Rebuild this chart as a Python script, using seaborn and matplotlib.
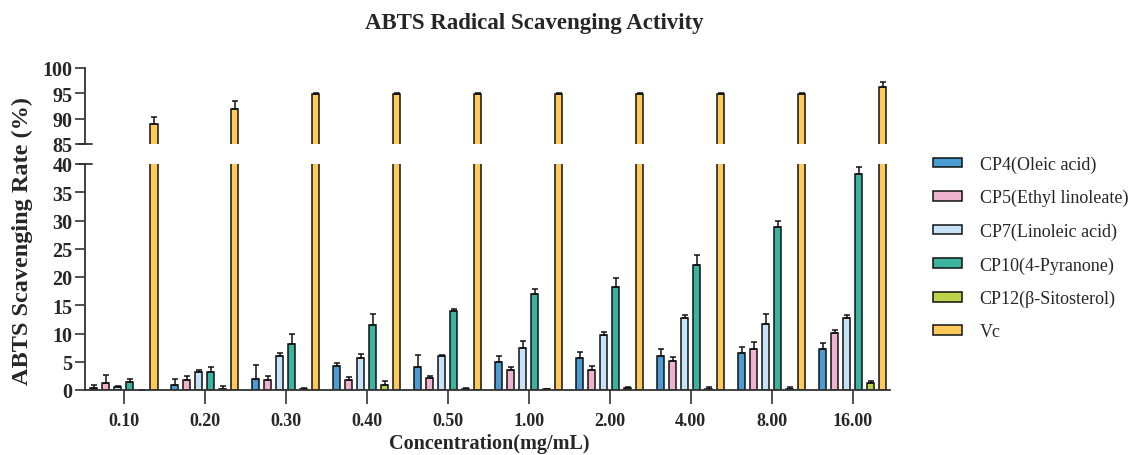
import matplotlib
matplotlib.use("Agg")
import matplotlib.pyplot as plt
import seaborn as sns
import pandas as pd
import numpy as np

concentrations = ["0.10", "0.20", "0.30", "0.40", "0.50", "1.00", "2.00", "4.00", "8.00", "16.00"]
compounds = ["CP4(Oleic acid)", "CP5(Ethyl linoleate)", "CP7(Linoleic acid)",
             "CP10(4-Pyranone)", "CP12(\u03b2-Sitosterol)", "Vc"]

cp4_mean = [0.3, 0.8, 2.0, 4.3, 4.0, 4.9, 5.7, 6.0, 6.6, 7.2]
cp4_sd = [0.5, 1.2, 2.5, 0.5, 2.2, 1.1, 1.1, 1.2, 1.05, 1.2]
cp5_mean = [1.3, 1.8, 1.8, 1.7, 2.1, 3.5, 3.6, 5.1, 7.3, 10.1]
cp5_sd = [1.3, 0.7, 0.6, 0.6, 0.3, 0.6, 0.65, 0.7, 1.2, 0.5]
cp7_mean = [0.5, 3.2, 6.1, 5.6, 6.1, 7.4, 9.8, 12.8, 11.7, 12.8]
cp7_sd = [0.2, 0.3, 0.4, 0.7, 0.05, 1.2, 0.5, 0.4, 1.8, 0.4]
cp10_mean = [1.5, 3.1, 8.1, 11.5, 14.0, 17.0, 18.2, 22.1, 28.9, 38.2]
cp10_sd = [0.4, 1.0, 1.9, 1.9, 0.4, 0.9, 1.6, 1.8, 1.05, 1.2]
cp12_mean = [0.0, 0.25, 0.25, 0.8, 0.2, 0.1, 0.35, 0.1, 0.25, 1.2]
cp12_sd = [0.0, 0.4, 0.1, 0.8, 0.1, 0.05, 0.25, 0.4, 0.25, 0.4]
vc_mean = [88.9, 91.9, 94.8, 94.8, 94.8, 94.8, 94.8, 94.8, 94.8, 96.3]
vc_sd = [1.5, 1.5, 0.2, 0.2, 0.2, 0.2, 0.2, 0.2, 0.2, 0.9]

colors = ["#4B9CD3", "#F0B3CF", "#C6E3F7", "#3CB39E", "#BBD44A", "#FFCA5A"]

means = [cp4_mean, cp5_mean, cp7_mean, cp10_mean, cp12_mean, vc_mean]
sds = [cp4_sd, cp5_sd, cp7_sd, cp10_sd, cp12_sd, vc_sd]

rows = []
for comp, m, s in zip(compounds, means, sds):
    for c, mv, sv in zip(concentrations, m, s):
        rows.append({"conc": c, "compound": comp, "value": mv, "sd": sv})
df = pd.DataFrame(rows)

sns.set_theme(style="white")
plt.rcParams["font.family"] = ["Liberation Serif", "DejaVu Serif"]

fig = plt.figure(figsize=(11.32, 4.56), dpi=100)
L, W = 85 / 1132, (890 - 85) / 1132
ax_top = fig.add_axes([L, 1 - 145 / 456, W, (145 - 69) / 456])
ax_bot = fig.add_axes([L, 1 - 391 / 456, W, (391 - 165) / 456])

spine_c = "#333333"
for ax, show_legend in ((ax_top, False), (ax_bot, True)):
    sns.barplot(data=df, x="conc", y="value", hue="compound", order=concentrations,
                hue_order=compounds, palette=colors, saturation=1, width=0.89, gap=0.4,
                errorbar=None, edgecolor="#111111", linewidth=1.1, ax=ax,
                legend=show_legend)
    for cont, comp in zip(ax.containers, compounds):
        sub = df[df["compound"] == comp].set_index("conc").loc[concentrations]
        xs = [p.get_x() + p.get_width() / 2 for p in cont.patches]
        ys = [p.get_height() for p in cont.patches]
        ax.errorbar(xs, ys, yerr=[np.zeros(len(xs)), sub["sd"].values], fmt="none",
                    ecolor="#111111", elinewidth=1.1, capsize=2.2, capthick=1.1)
    ax.set_xlim(-0.48, 9.46)
    ax.set_xlabel("")
    ax.set_ylabel("")
    sns.despine(ax=ax)
    for sp in ("left", "bottom"):
        ax.spines[sp].set_color(spine_c)
        ax.spines[sp].set_linewidth(1.3)
    ax.tick_params(axis="y", direction="out", length=7, width=1.2, color=spine_c,
                   labelsize=14.5, pad=2, left=True)

ax_top.set_ylim(85, 100)
ax_top.set_yticks([85, 90, 95, 100])
ax_top.spines["bottom"].set_visible(False)
ax_top.tick_params(axis="x", bottom=False, labelbottom=False)
for t in ax_top.get_yticklabels():
    t.set_fontweight("bold")

ax_bot.set_ylim(0, 40)
ax_bot.set_yticks(range(0, 41, 5))
ax_bot.tick_params(axis="x", direction="out", length=10, width=1.2, color=spine_c,
                   labelsize=13, pad=6, bottom=True)
for t in ax_bot.get_yticklabels() + ax_bot.get_xticklabels():
    t.set_fontweight("bold")

# break marks
dx = 7 / 805
ax_top.plot([-dx, dx], [0, 0], transform=ax_top.transAxes, color=spine_c, lw=1.3, clip_on=False)
ax_bot.plot([-dx, dx], [1, 1], transform=ax_bot.transAxes, color=spine_c, lw=1.3, clip_on=False)

handles, labels = ax_bot.get_legend_handles_labels()
ax_bot.get_legend().remove()
leg = fig.legend(handles, labels, loc="center left", bbox_to_anchor=(0.824, 1 - 249 / 456),
                 frameon=False, fontsize=13, handlelength=1.6, handleheight=0.45,
                 labelspacing=0.9, handletextpad=1.0, borderpad=0, borderaxespad=0)

fig.text(534 / 1132, 1 - 23 / 456, "ABTS Radical Scavenging Activity", ha="center",
         va="center", fontsize=16.5, fontweight="bold")
fig.text(489 / 1132, 1.5 / 456, "Concentration(mg/mL)", ha="center", va="bottom",
         fontsize=14.5, fontweight="bold")
fig.text(22 / 1132, 1 - 241 / 456, "ABTS Scavenging Rate (%)", ha="center", va="center",
         rotation=90, fontsize=17.5, fontweight="bold")

fig.savefig("out.png", dpi=100)
